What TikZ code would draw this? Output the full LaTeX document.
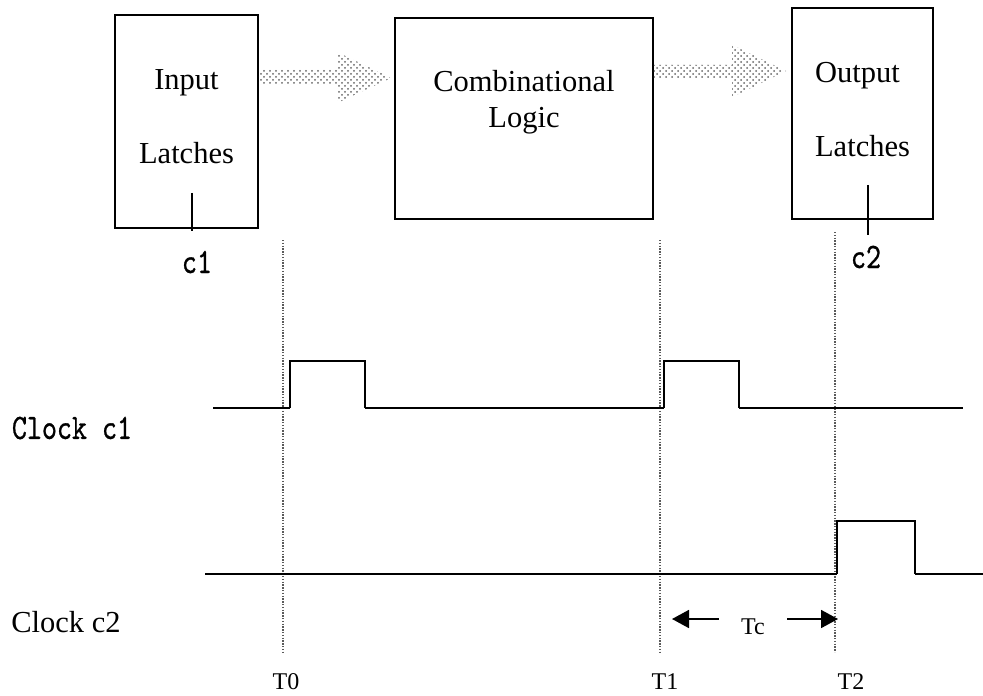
\documentclass[tikz,border=0pt]{standalone}
\usepackage{fontspec}
\setmainfont{Liberation Serif}
\newfontfamily\clockfont{lmmono10-regular.otf}[FakeBold=0.9]
\usepackage{graphicx}
\usepackage{tikz}
\usetikzlibrary{arrows.meta, calc, patterns}
\definecolor{DotGray}{HTML}{666666}
\definecolor{GuideGray}{HTML}{5A5A5A}

\begin{document}
\begin{tikzpicture}[
  x=0.5pt, y=-0.5pt,
  font=\fontsize{15.25}{18}\selectfont,
  latch/.style={
    rectangle,
    draw,
    line width=0.85pt,
    inner sep=0pt,
    align=center},
  fatarrow/.style={
    pattern=crosshatch dots,
    pattern color=DotGray},
  wave/.style={line width=0.7pt},
  pulse/.style={line width=1.2pt},
  guide/.style={
    draw=GuideGray,
    line width=0.7pt,
    dash pattern=on 0.7pt off 0.7pt},
  tick/.style={line width=0.8pt},
  timelbl/.style={font=\fontsize{12}{14}\selectfont},
  clklbl/.style={font=\fontsize{14.3}{16}\clockfont},
  tcarrow/.style={
    -{Triangle[length=8.5pt,width=9pt]},
    line width=0.9pt},
]

\useasboundingbox (0,0) rectangle (983,695);

\node[latch, minimum width=71.5pt, minimum height=106.5pt,
      text height=45pt, text depth=3.5pt] (inlatch) at (186.5,121.5)
  {Input\\[18.5pt]Latches};
\node[latch, minimum width=129pt, minimum height=100.5pt,
      text height=30pt, text depth=20.5pt] (comb) at (524,118.5)
  {Combinational\\Logic};
\node[latch, align=left, minimum width=70.5pt, minimum height=105.5pt,
      text height=47pt, text depth=3.5pt] (outlatch) at (862.5,113.5)
  {Output\\[19pt]Latches};

\path[fatarrow] (inlatch.east |- 0,70) -- ($(comb.west |- 0,70)+(-57,0)$)
  -- ++(0,-18) -- ($(comb.west |- 0,78)+(-3,0)$)
  -- ($(comb.west |- 0,103)+(-57,0)$) -- ++(0,-18)
  -- (inlatch.east |- 0,85) -- cycle;
\path[fatarrow] (comb.east |- 0,65) -- ($(outlatch.west |- 0,65)+(-59,0)$)
  -- ++(0,-20) -- ($(outlatch.west |- 0,71)+(-5,0)$)
  -- ($(outlatch.west |- 0,97)+(-59,0)$) -- ++(0,-19)
  -- (comb.east |- 0,78) -- cycle;

\node[clklbl] (c1) at (197,262) {\scalebox{1}[1.25]{c1}};
\node[clklbl] (c2) at (866,257) {\scalebox{1}[1.25]{c2}};
\draw[tick] (inlatch.south -| c1.north) ++(-5,-36) -- ++(0,38);
\draw[tick] (outlatch.south -| c2.north) ++(2,-35) -- ++(0,50);

\node[clklbl] (clk1) at (72,428) {\scalebox{1}[1.25]{Clock c1}};
\node (clk2) at (66,622) {Clock c2};

\draw[guide] (283,240) -- (283,652);
\draw[guide] (660,240) -- (660,652);
\draw[guide] (835,232) -- (835,652);

\draw[wave] (213,408) -- (290,408);
\draw[pulse] (290,408) -- (290,361) -- (365,361) -- (365,408);
\draw[wave] (365,408) -- (664,408);
\draw[pulse] (664,408) -- (664,361) -- (739,361) -- (739,408);
\draw[wave] (739,408) -- (963,408);

\draw[wave, line width=1pt] (205,574) -- (837,574);
\draw[pulse] (837,574) -- (837,521) -- (915,521) -- (915,574);
\draw[wave, line width=1pt] (915,574) -- (983,574);

\node[timelbl] (t0) at (286,682) {T0};
\node[timelbl] (t1) at (665,682) {T1};
\node[timelbl] (t2) at (851,682) {T2};

\coordinate (tcL) at (672,619);
\coordinate (tcR) at (838,619);
\node[timelbl, inner xsep=11pt] (tc) at (753,627) {Tc};
\draw[tcarrow] (tc.west |- tcL) -- (tcL);
\draw[tcarrow] (tc.east |- tcR) -- (tcR);

\end{tikzpicture}
\end{document}
